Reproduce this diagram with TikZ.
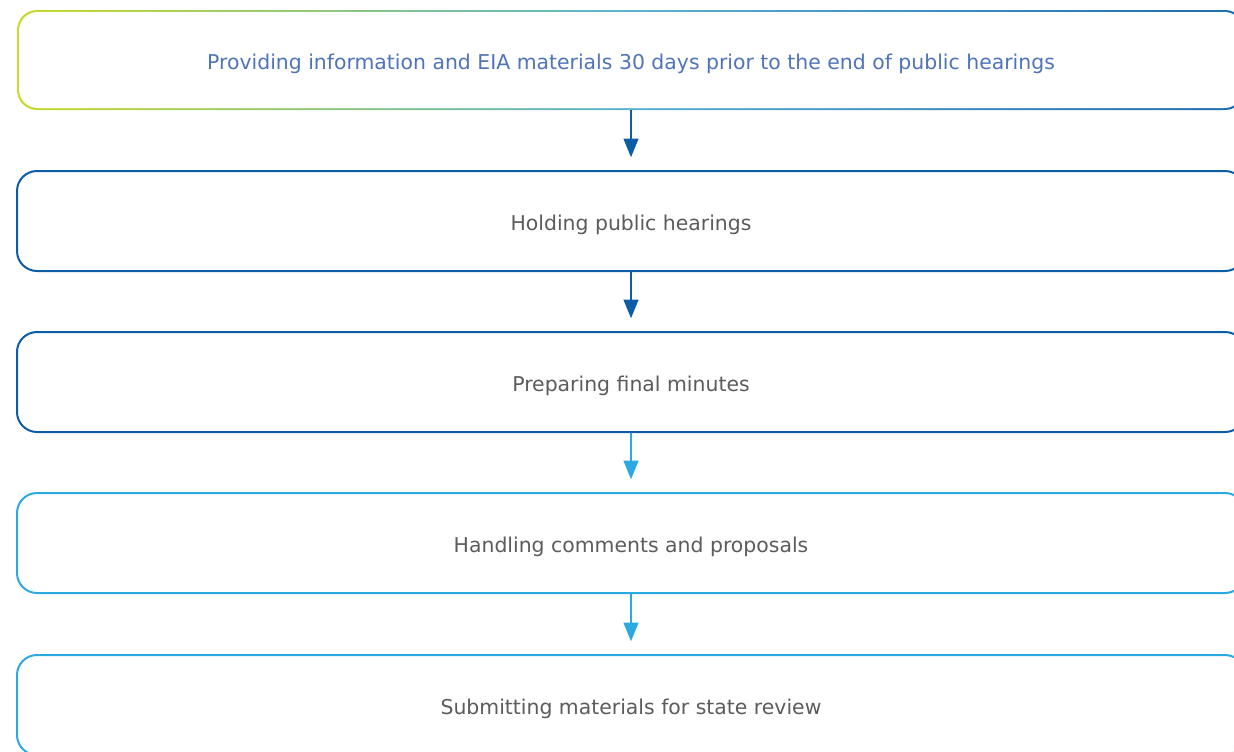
\documentclass[tikz,border=0pt]{standalone}
\usepackage{fontspec}
\setmainfont{DejaVu Sans}
\usetikzlibrary{arrows.meta}
\definecolor{lime}{HTML}{C8DA2A}
\definecolor{teal1}{HTML}{5AB4D0}
\definecolor{blue1}{HTML}{1B6CB3}
\definecolor{darkblue}{HTML}{0C5DA6}
\definecolor{lightblue}{HTML}{2BA9E1}
\definecolor{txtblue}{HTML}{4F74B7}
\definecolor{txtgray}{HTML}{5C5C5C}
\tikzset{
  stepbox/.style={rectangle, rounded corners=15pt, minimum width=921pt, minimum height=75pt,
    line width=1.5pt, font=\fontsize{15.3pt}{18pt}\selectfont, text=txtgray, fill=white,
    text height=16pt, text depth=2pt},
  conn/.style={line width=1.6pt, -{Triangle[width=11pt,length=14pt]}, shorten >=9.5pt}
}
\begin{document}
\begin{tikzpicture}[x=0.75pt,y=-0.75pt]
\useasboundingbox (0,0) rectangle (1234,751);
% gradient border for the first box
\shade[left color=lime, right color=blue1, middle color=teal1, rounded corners=15pt]
  (17,10) rectangle (1245,110);
\node[stepbox, draw=none, text=txtblue, minimum width=918pt, minimum height=72pt, rounded corners=14pt] (b1) at (631,60)
  {Providing information and EIA materials 30 days prior to the end of public hearings};
\node[stepbox, draw=darkblue] (b2) at (631,221) {Holding public hearings};
\node[stepbox, draw=darkblue] (b3) at (631,382) {Preparing final minutes};
\node[stepbox, draw=lightblue] (b4) at (631,543) {Handling comments and proposals};
\node[stepbox, draw=lightblue] (b5) at (631,705) {Submitting materials for state review};
\coordinate (b1s) at (631,110);
\draw[conn, draw=darkblue, fill=darkblue] (b1s) -- (b2.north);
\draw[conn, draw=darkblue, fill=darkblue] (b2.south) -- (b3.north);
\draw[conn, draw=lightblue, fill=lightblue] (b3.south) -- (b4.north);
\draw[conn, draw=lightblue, fill=lightblue] (b4.south) -- (b5.north);
\end{tikzpicture}
\end{document}
